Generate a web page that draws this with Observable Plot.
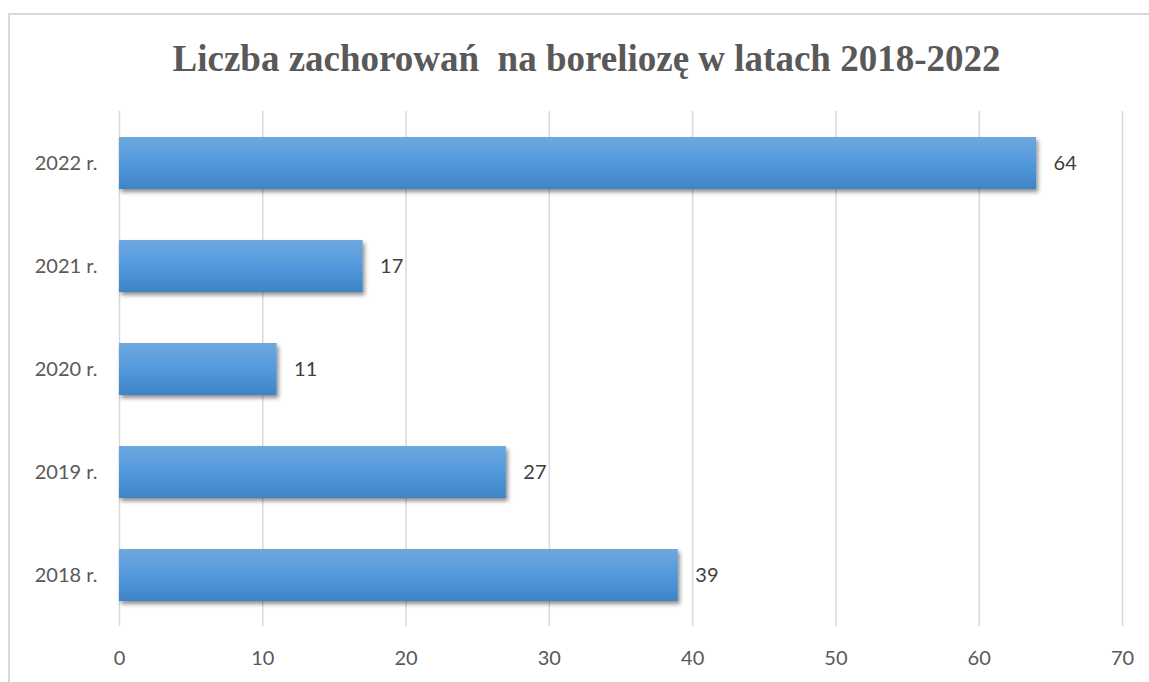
<!DOCTYPE html>
<html>
<head>
<meta charset="utf-8">
<script src="https://cdn.jsdelivr.net/npm/d3@7"></script>
<script src="https://cdn.jsdelivr.net/npm/@observablehq/plot@0.6"></script>
<style>
  html, body { margin: 0; padding: 0; background: #fff; }
  #wrap { position: relative; width: 1149px; height: 682px; overflow: hidden; }
  #frame { position: absolute; left: 8px; top: 13px; width: 1300px; height: 900px; border: 2px solid #d9d9d9; box-sizing: border-box; }
  #title { position: absolute; left: 0; width: 1173px; top: 40px; text-align: center; line-height: 1;
    font-family: "Liberation Serif", "Times New Roman", serif; font-weight: bold; font-size: 37px; color: #595959; white-space: pre; }
  #chart { position: absolute; left: 0; top: 95px; }
</style>
</head>
<body>
<div id="wrap">
  <div id="frame"></div>
  <div id="title">Liczba zachorowań  na boreliozę w latach 2018-2022</div>
  <div id="chart"></div>
</div>
<script>
const years = ["2022 r.", "2021 r.", "2020 r.", "2019 r.", "2018 r."];
const cases = [64, 17, 11, 27, 39];
const xTicks = [0, 10, 20, 30, 40, 50, 60, 70];

const data = years.map((y, i) => ({year: y, value: cases[i]}));

const plot = Plot.plot({
  width: 1149,
  height: 587,
  marginLeft: 119,
  marginRight: 27,
  marginTop: 16,
  marginBottom: 56,
  style: {fontFamily: "Lato, sans-serif", fontSize: "20px", color: "#595959", background: "transparent", overflow: "visible"},
  x: {domain: [0, 70], ticks: xTicks, label: null},
  y: {domain: years, label: null, paddingInner: 0.5, paddingOuter: 0.25},
  marks: [
    Plot.ruleX(xTicks, {stroke: "#d9d9d9", strokeWidth: 1.5}),
    Plot.barX(data, {x: "value", y: "year", fill: "url(#barGrad)"}),
    Plot.text(data, {x: "value", y: "year", text: d => String(d.value), dx: 17, textAnchor: "start", fill: "#404040", fontSize: 20}),
    Plot.axisX({ticks: xTicks, tickSize: 0, tickPadding: 24, tickFormat: d => String(d), fill: "#595959"}),
    Plot.axisY({tickSize: 0, tickPadding: 22, fill: "#595959", fontSize: 20})
  ]
});

const ns = "http://www.w3.org/2000/svg";
const defs = document.createElementNS(ns, "defs");
const grad = document.createElementNS(ns, "linearGradient");
grad.setAttribute("id", "barGrad");
grad.setAttribute("x1", "0"); grad.setAttribute("y1", "0");
grad.setAttribute("x2", "0"); grad.setAttribute("y2", "1");
[["0%", "#6ea8de"], ["50%", "#5399dd"], ["100%", "#3d84c6"]].forEach(([o, c]) => {
  const s = document.createElementNS(ns, "stop");
  s.setAttribute("offset", o); s.setAttribute("stop-color", c);
  grad.appendChild(s);
});
defs.appendChild(grad);
const filt = document.createElementNS(ns, "filter");
filt.setAttribute("id", "barShadow");
filt.setAttribute("x", "-5%"); filt.setAttribute("y", "-20%");
filt.setAttribute("width", "115%"); filt.setAttribute("height", "160%");
const ds = document.createElementNS(ns, "feDropShadow");
ds.setAttribute("dx", "2"); ds.setAttribute("dy", "3");
ds.setAttribute("stdDeviation", "2");
ds.setAttribute("flood-color", "#000"); ds.setAttribute("flood-opacity", "0.45");
filt.appendChild(ds);
defs.appendChild(filt);
plot.insertBefore(defs, plot.firstChild);
plot.querySelectorAll('g[aria-label="bar"] rect').forEach(r => r.setAttribute("filter", "url(#barShadow)"));
document.getElementById("chart").appendChild(plot);
</script>
</body>
</html>
